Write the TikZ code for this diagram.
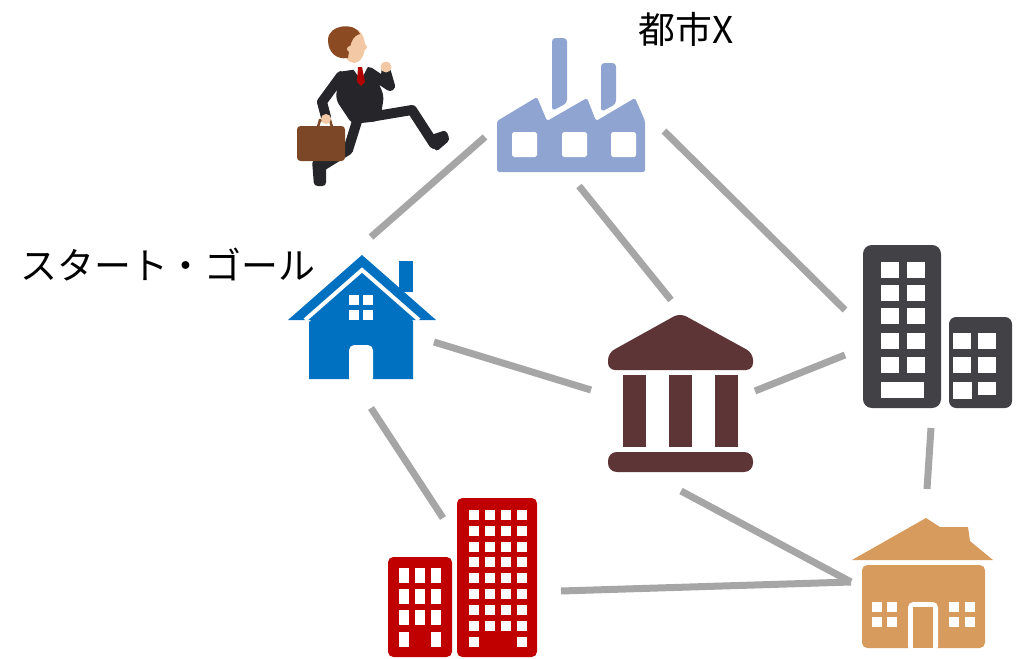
\documentclass[tikz,border=0pt]{standalone}
\usepackage{fontspec}
\setmainfont{Noto Sans CJK JP}
\definecolor{roadgray}{HTML}{A6A6A6}
\definecolor{plantblue}{HTML}{8FA4D0}
\definecolor{homeblue}{HTML}{0070C0}
\definecolor{bankbrown}{HTML}{5E3536}
\definecolor{officegray}{HTML}{414146}
\definecolor{towerred}{HTML}{C00000}
\definecolor{innorange}{HTML}{D89B5E}
\definecolor{suit}{HTML}{25252A}
\definecolor{hair}{HTML}{8B4A22}
\definecolor{skin}{HTML}{F3C9A5}
\definecolor{case}{HTML}{7B4726}
\begin{document}
\begin{tikzpicture}[x=0.02cm,y=-0.02cm,
    road/.style={draw=roadgray,line width=0.14cm},
    limb/.style={draw=suit,line width=0.2cm,line cap=round,line join=round},
    jptext/.style={font=\fontsize{21}{25}\selectfont,inner sep=0pt,anchor=west}]
\useasboundingbox (0,0) rectangle (1025,659);

\node[jptext] (city) at (638,29) {都市X};
\node[jptext] (start) at (20,265) {スタート・ゴール};

% running businessman
\draw[limb] (358,118) -- (348,150) -- (322,166);
\fill[suit,rounded corners=2pt] (312,160) -- (326,162) -- (326,186) -- (314,186) -- cycle;
\draw[limb] (376,116) -- (412,110) -- (434,144);
\fill[suit,rounded corners=2pt] (428,136) -- (446,130) -- (450,140) -- (436,152) -- cycle;
\fill[suit,rounded corners=3pt] (338,72) -- (372,67) -- (384,96) -- (380,121) -- (352,124) -- (336,100) -- cycle;
\draw[limb] (341,76) -- (322,102) -- (326,117);
\fill[case,rounded corners=2pt] (297,126) rectangle (345,161);
\draw[case,line width=0.05cm] (318,127) -- (320,120) -- (330,120) -- (332,127);
\fill[skin] (326,119) circle (5);
\draw[limb] (369,72) -- (390,86) -- (386,72);
\fill[skin] (386,67) circle (5.5);
\fill[white] (351,66) -- (369,64) -- (361,80) -- cycle;
\fill[red!70!black] (358,67) -- (362,67) -- (365,82) -- (361,86) -- (357,82) -- cycle;
\fill[skin] (354,46) ellipse (11 and 17);
\fill[skin] (364,47) circle (3);
\fill[hair] (328,40) .. controls (328,24) and (356,22) .. (360,34) .. controls (352,36) and (350,44) .. (348,58) .. controls (336,60) and (328,52) .. (328,40);
\fill[skin] (350,49) circle (3);

% connectors
\coordinate (home-n) at (371,237);
\coordinate (home-e) at (434,342);
\coordinate (home-s) at (371,408);
\coordinate (plant-w) at (485,137);
\coordinate (plant-s) at (579,186);
\coordinate (plant-e) at (664,131);
\coordinate (bank-n) at (671,300);
\coordinate (bank-w) at (591,390);
\coordinate (bank-e) at (755,391);
\coordinate (bank-s) at (681,491);
\coordinate (office-nw) at (845,310);
\coordinate (office-w) at (845,355);
\coordinate (office-s) at (931,428);
\coordinate (tower-n) at (443,518);
\coordinate (tower-e) at (561,591);
\coordinate (inn-n) at (927,489);
\coordinate (inn-w) at (851,582);
\draw[road] (home-n) -- (plant-w);
\draw[road] (plant-s) -- (bank-n);
\draw[road] (plant-e) -- (office-nw);
\draw[road] (home-e) -- (bank-w);
\draw[road] (bank-e) -- (office-w);
\draw[road] (office-s) -- (inn-n);
\draw[road] (home-s) -- (tower-n);
\draw[road] (bank-s) -- (inn-w);
\draw[road] (tower-e) -- (inn-w);

% factory
\fill[plantblue,rounded corners=1pt] (497,172) -- (497,121) -- (537,97) -- (547,121) -- (587,98) -- (596,121) -- (635,98) -- (645,121) -- (645,172) -- cycle;
\fill[plantblue,rounded corners=2pt] (552,111) -- (552,38) -- (567,38) -- (567,103) -- cycle;
\fill[plantblue,rounded corners=2pt] (601,112) -- (601,63) -- (616,63) -- (616,104) -- cycle;
\foreach \x in {512,562,611}
  \fill[white,rounded corners=1pt] (\x,132) rectangle ++(25,25);

% home
\fill[homeblue] (288,320) -- (362,255) -- (436,320) -- cycle;
\fill[homeblue] (399,261) rectangle (413,292);
\draw[white,line width=0.08cm] (305,320) -- (362,270) -- (419,320);
\fill[homeblue] (309,379) -- (309,322) -- (362,276) -- (413,321) -- (413,379) -- cycle;
\foreach \x in {349,363}
  \foreach \y in {295,310}
    \fill[white] (\x,\y) rectangle ++(10,10);
\fill[white,rounded corners=3pt] (349,383) -- (349,345) -- (373,345) -- (373,383) -- cycle;

% bank
\fill[bankbrown,rounded corners=4pt] (608,370) -- (608,353) -- (680,313) -- (753,353) -- (753,370) -- cycle;
\foreach \x in {623,669,715}
  \fill[bankbrown] (\x,375) rectangle ++(23,72);
\fill[bankbrown,rounded corners=5pt] (608,452) rectangle (753,472);

% office buildings
\fill[officegray,rounded corners=5pt] (863,245) rectangle (941,408);
\fill[officegray,rounded corners=4pt] (949,317) rectangle (1012,408);
\foreach \x in {881,907}
  \foreach \y in {262,285,308,333,357}
    \fill[white] (\x,\y) rectangle ++(18,16);
\fill[white] (881,382) rectangle (924,398);
\foreach \x in {953,978}
  \foreach \y in {333,357}
    \fill[white] (\x,\y) rectangle ++(18,16);
\fill[white] (953,382) rectangle (972,399);
\fill[white] (978,382) rectangle (996,395);

% red towers
\fill[towerred,rounded corners=3pt] (388,557) rectangle (452,657);
\fill[towerred,rounded corners=3pt] (457,498) rectangle (537,657);
\foreach \x in {399,415,431}
  \foreach \y in {568,589,610}
    \fill[white] (\x,\y) rectangle ++(10,15);
\foreach \x in {399,431}
  \fill[white] (\x,632) rectangle ++(10,15);
\foreach \x in {469,485,501,517}
  \foreach \y in {510,526,542,557,573,589,605,621}
    \fill[white] (\x,\y) rectangle ++(10,10);
\foreach \x in {469,517}
  \fill[white] (\x,637) rectangle ++(10,10);

% inn
\fill[innorange] (852,560) -- (926,518) -- (940,527) -- (968,527) -- (970,541) -- (993,560) -- cycle;
\fill[innorange,rounded corners=3pt] (862,565) rectangle (985,648);
\foreach \x in {872,887,949,965}
  \foreach \y in {602,617}
    \fill[white] (\x,\y) rectangle ++(10,10);
\fill[white,rounded corners=3pt] (908,652) -- (908,602) -- (938,602) -- (938,652) -- cycle;
\fill[innorange] (913,607) rectangle (933,648);
\end{tikzpicture}
\end{document}
